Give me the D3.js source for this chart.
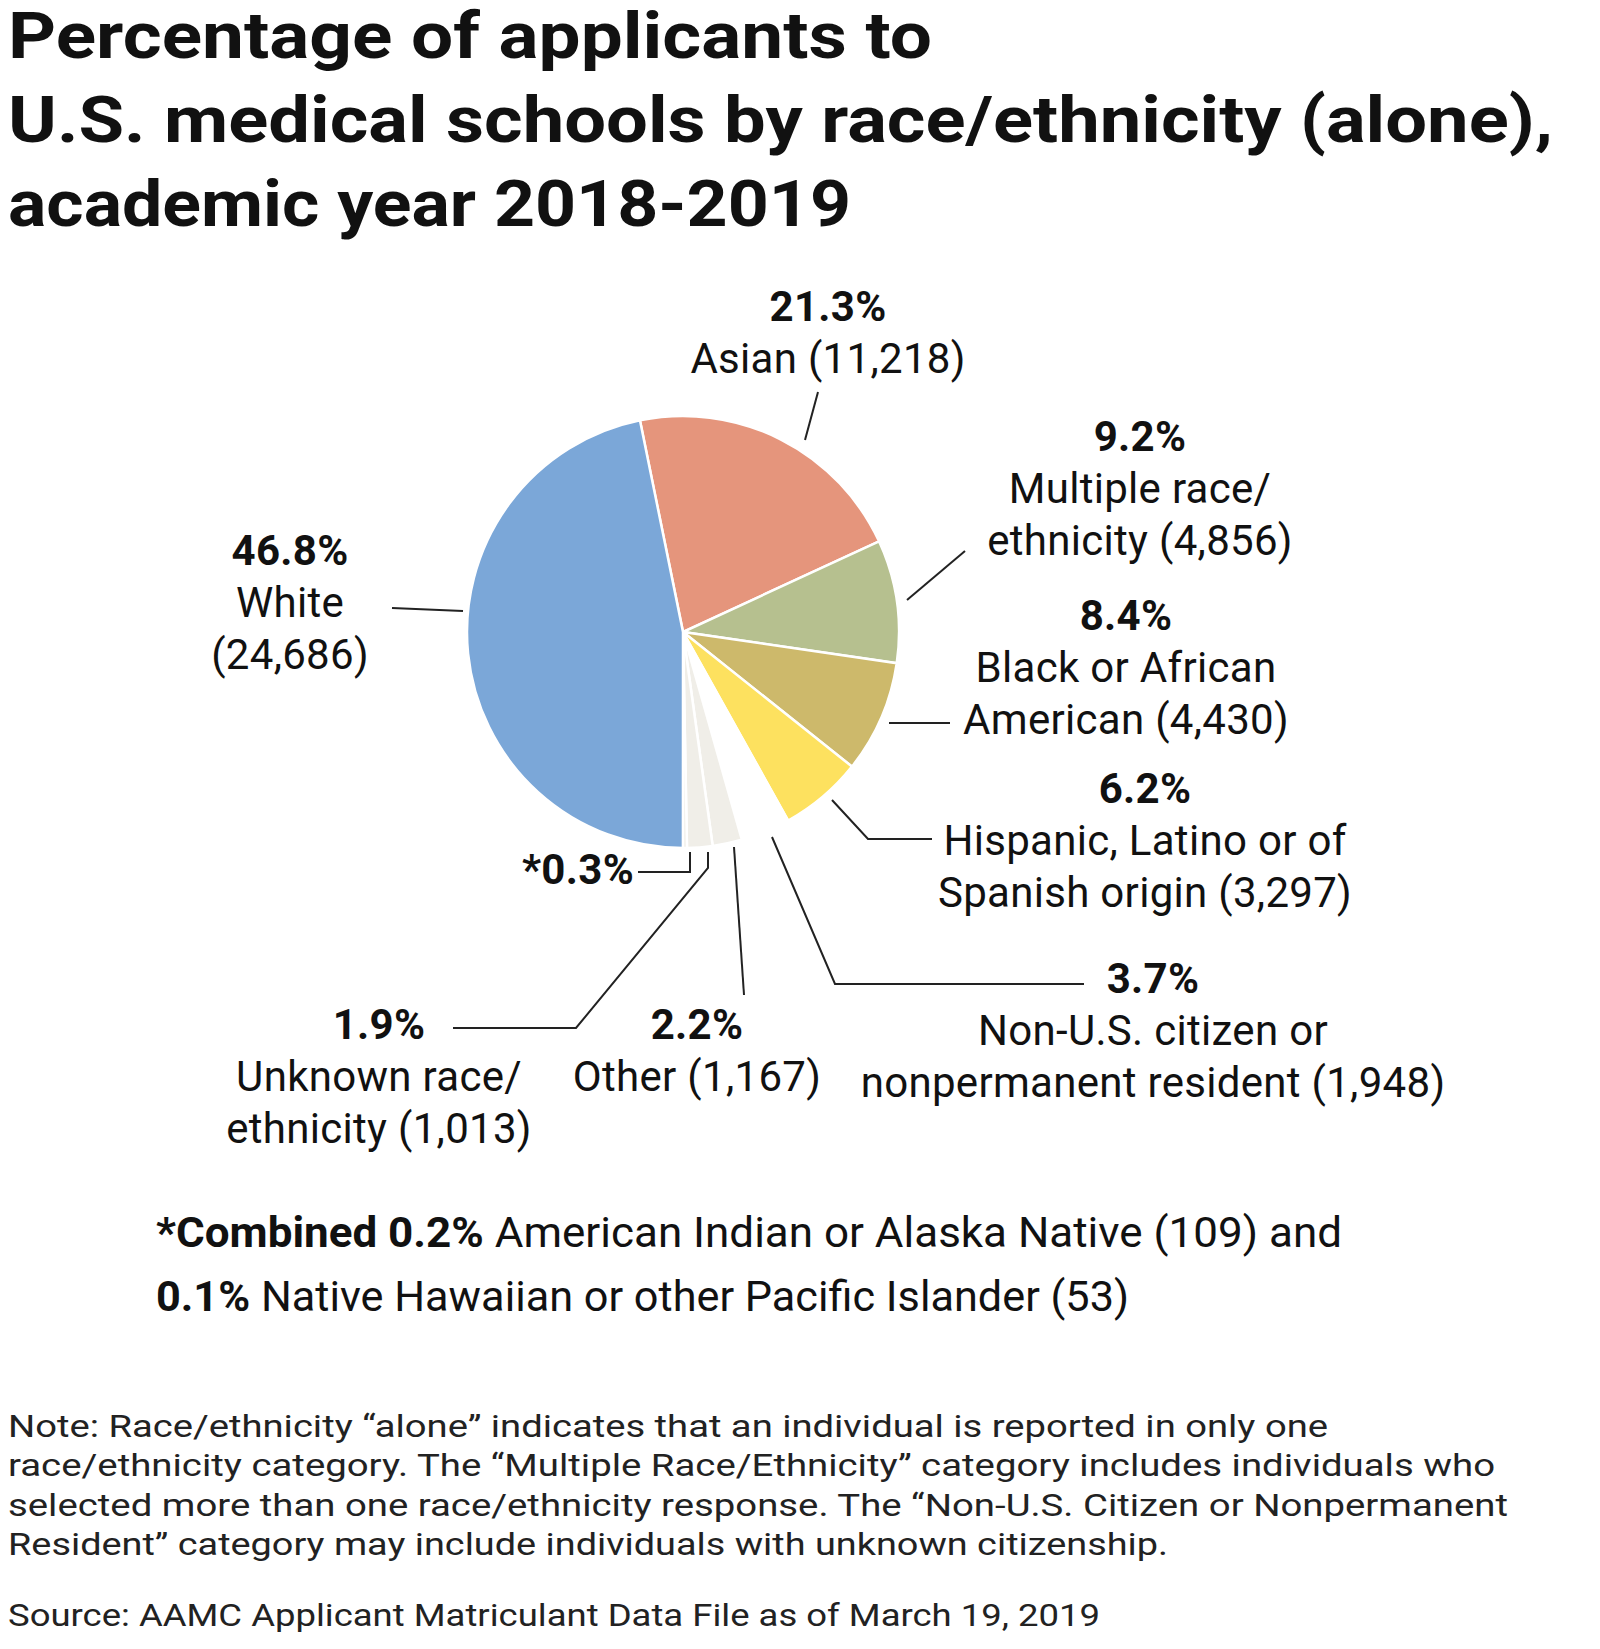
<!DOCTYPE html>
<html><head><meta charset="utf-8">
<script src="https://cdn.jsdelivr.net/npm/d3@7"></script>
<style>body{margin:0;background:#fff}svg{display:block}</style>
</head><body>
<svg id="c" width="1600" height="1649"></svg>
<script>
const categories = ["Asian","Multiple race/ethnicity","Black or African American","Hispanic, Latino or of Spanish origin","Non-U.S. citizen or nonpermanent resident","Other","Unknown race/ethnicity","AIAN + NHPI","White"];
const percents = [21.3,9.2,8.4,6.2,3.7,2.2,1.9,0.3,46.8];
const counts = [11218,4856,4430,3297,1948,1167,1013,162,24686];
const colors = ["#e5957c","#b6c08f","#cdb96b","#fde15f","#ffffff","#f0eee8","#f0eee8","#f0eee8","#7ba7d8"];
const labelLines = [
 [["21.3%"],["Asian (11,218)"]],
 [["9.2%"],["Multiple race/"],["ethnicity (4,856)"]],
 [["8.4%"],["Black or African"],["American (4,430)"]],
 [["6.2%"],["Hispanic, Latino or of"],["Spanish origin (3,297)"]],
 [["3.7%"],["Non-U.S. citizen or"],["nonpermanent resident (1,948)"]],
 [["2.2%"],["Other (1,167)"]],
 [["1.9%"],["Unknown race/"],["ethnicity (1,013)"]],
 [["*0.3%"]],
 [["46.8%"],["White"],["(24,686)"]]
];
const svg = d3.select("#c");
const F = "Roboto, 'Open Sans', sans-serif";
const title = ["Percentage of applicants to","U.S. medical schools by race/ethnicity (alone),","academic year 2018-2019"];
const titleW = [924,1545,843];
svg.selectAll("text.t").data(title).join("text").attr("x",8).attr("y",(d,i)=>58+i*84)
 .attr("font-family",F).attr("font-weight",700).attr("font-size",64).attr("fill","#111")
 .attr("textLength",(d,i)=>titleW[i]).attr("lengthAdjust","spacingAndGlyphs").text(d=>d);

const cx=683, cy=632, R=216;
const deg = Math.PI/180;
const pie = d3.pie().sort(null).value(d=>d).startAngle(-11.5*deg).endAngle(348.5*deg);
const arc = d3.arc().innerRadius(0).outerRadius(R);
const g = svg.append("g").attr("transform",`translate(${cx},${cy})`);
g.selectAll("path").data(pie(percents)).join("path").attr("d",arc)
 .attr("fill",(d,i)=>colors[i]).attr("stroke","#fff").attr("stroke-width",2.5);

const leaders = [
 [[805,440],[818,392]],
 [[907,600],[965,551]],
 [[889,723],[950,723]],
 [[832,800],[868,839],[932,839]],
 [[772,837],[835,984],[1084,984]],
 [[734,847],[744,995]],
 [[708,852],[708,868],[576,1028],[453,1028]],
 [[690,852],[690,872],[638,872]],
 [[463,611],[392,608]]
];
svg.selectAll("path.l").data(leaders).join("path").attr("d",d=>d3.line()(d))
 .attr("fill","none").attr("stroke","#222").attr("stroke-width",2);

const pos = [
 {x:828,y:321,a:"middle"},
 {x:1140,y:451,a:"middle"},
 {x:1126,y:630,a:"middle"},
 {x:1145,y:803,a:"middle"},
 {x:1153,y:993,a:"middle"},
 {x:697,y:1039,a:"middle"},
 {x:379,y:1039,a:"middle"},
 {x:634,y:884,a:"end"},
 {x:290,y:565,a:"middle"}
];
labelLines.forEach((lines,i)=>{
  const t = svg.append("text").attr("x",pos[i].x).attr("y",pos[i].y).attr("text-anchor",pos[i].a)
   .attr("font-family",F).attr("font-size",42).attr("fill","#111").attr("letter-spacing",0.3);
  lines.forEach((l,j)=>{
    t.append("tspan").attr("x",pos[i].x).attr("y",pos[i].y+j*52).attr("font-weight",j===0?700:400).text(l[0]);
  });
});

const foot = svg.append("g").attr("font-family",F).attr("font-size",42).attr("fill","#111");
const f1 = foot.append("text").attr("x",156).attr("y",1247).attr("textLength",1186).attr("lengthAdjust","spacingAndGlyphs");
f1.append("tspan").attr("font-weight",700).text("*Combined 0.2% ");
f1.append("tspan").text("American Indian or Alaska Native (109) and");
const f2 = foot.append("text").attr("x",156).attr("y",1311).attr("textLength",973).attr("lengthAdjust","spacingAndGlyphs");
f2.append("tspan").attr("font-weight",700).text("0.1% ");
f2.append("tspan").text("Native Hawaiian or other Pacific Islander (53)");

const notes = ["Note: Race/ethnicity \u201calone\u201d indicates that an individual is reported in only one",
"race/ethnicity category. The \u201cMultiple Race/Ethnicity\u201d category includes individuals who",
"selected more than one race/ethnicity response. The \u201cNon-U.S. Citizen or Nonpermanent",
"Resident\u201d category may include individuals with unknown citizenship."];
const noteW = [1320,1487,1500,1160];
svg.selectAll("text.n").data(notes).join("text").attr("x",8).attr("y",(d,i)=>1437+i*39.3)
 .attr("font-family",F).attr("font-size",32).attr("fill","#222")
 .attr("textLength",(d,i)=>noteW[i]).attr("lengthAdjust","spacingAndGlyphs").text(d=>d);
svg.append("text").attr("x",8).attr("y",1626).attr("font-family",F).attr("font-size",32).attr("fill","#222")
 .attr("textLength",1092).attr("lengthAdjust","spacingAndGlyphs")
 .text("Source: AAMC Applicant Matriculant Data File as of March 19, 2019");
</script></body></html>
